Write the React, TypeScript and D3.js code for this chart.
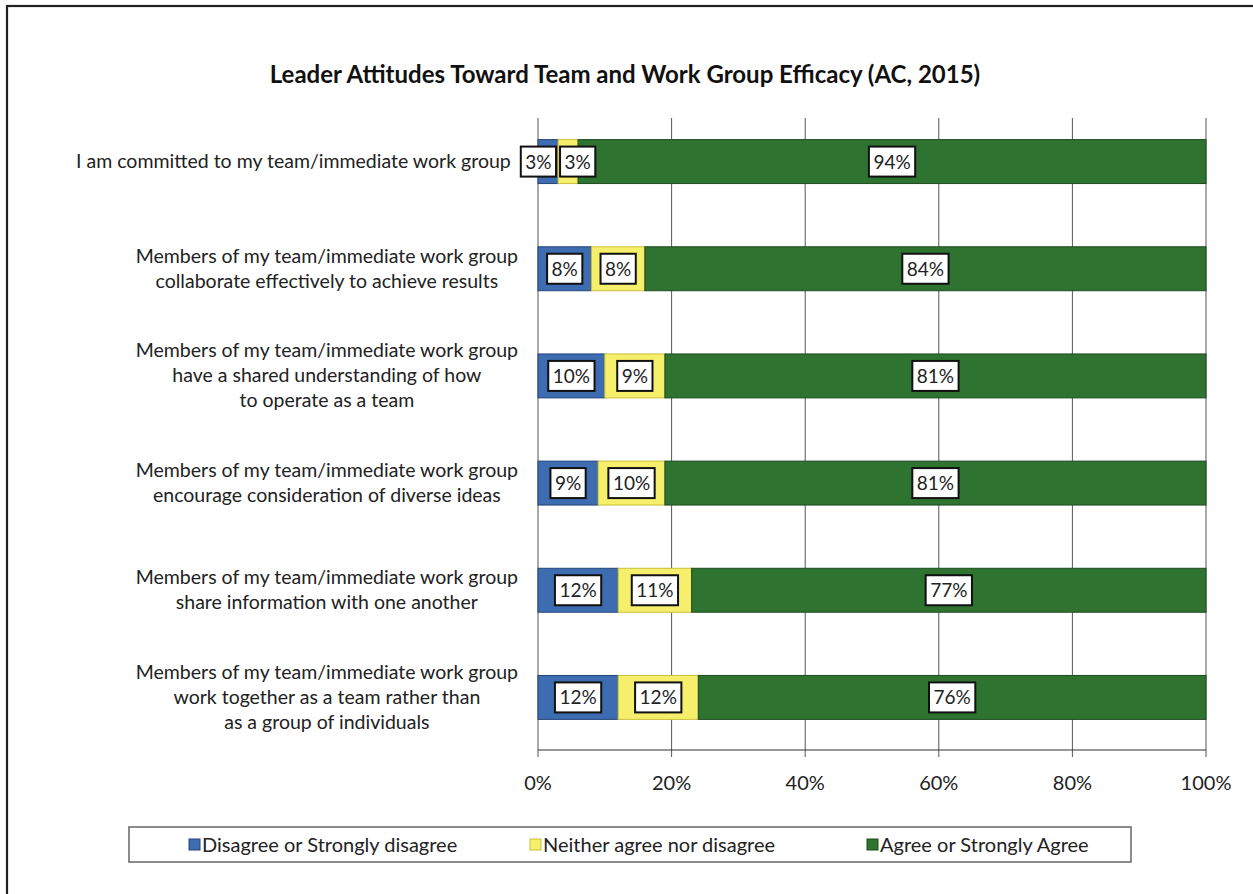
import React, { useEffect, useRef } from "react";
import * as d3 from "d3";

const titleText = "Leader Attitudes Toward Team and Work Group Efficacy (AC, 2015)";

const categories: string[][] = [
  ["I am committed to my team/immediate work group"],
  ["Members of my team/immediate work group", "collaborate effectively to achieve results"],
  ["Members of my team/immediate work group", "have a shared understanding of how", "to operate as a team"],
  ["Members of my team/immediate work group", "encourage consideration of diverse ideas"],
  ["Members of my team/immediate work group", "share information with one another"],
  ["Members of my team/immediate work group", "work together as a team rather than", "as a group of individuals"],
];

const disagree = [3, 8, 10, 9, 12, 12];
const neither = [3, 8, 9, 10, 11, 12];
const agree = [94, 84, 81, 81, 77, 76];

const seriesNames = ["Disagree or Strongly disagree", "Neither agree nor disagree", "Agree or Strongly Agree"];
const seriesColors = ["#3d6cb0", "#f6ef6c", "#2f7331"];
const seriesStroke = ["#23447a", "#c9bf3a", "#1d4a1f"];

const xTicks = [0, 20, 40, 60, 80, 100];

const FONT = "Lato, 'Open Sans', sans-serif";

export default function App() {
  const ref = useRef<SVGSVGElement | null>(null);

  useEffect(() => {
    const svg = d3.select(ref.current);
    svg.selectAll("*").remove();

    const left = 538, right = 1206, bandTop = 108, bandBottom = 751, gridTop = 118, axisY = 750;

    // outer frame
    svg.append("rect").attr("x", 7).attr("y", 6).attr("width", 1300).attr("height", 1000)
      .attr("fill", "white").attr("stroke", "#222").attr("stroke-width", 2.2);

    svg.append("text").attr("x", 625).attr("y", 83).attr("text-anchor", "middle")
      .attr("font-family", FONT).attr("font-weight", "bold").attr("font-size", 24)
      .attr("fill", "#111").text(titleText);

    const x = d3.scaleLinear().domain([0, 100]).range([left, right]);
    const y = d3.scaleBand<number>().domain(d3.range(categories.length)).range([bandTop, bandBottom]).paddingInner(0.59).paddingOuter(0.295);

    // gridlines
    svg.append("g").selectAll("line").data(xTicks).join("line")
      .attr("x1", d => x(d)).attr("x2", d => x(d)).attr("y1", gridTop).attr("y2", axisY + 7)
      .attr("stroke", "#555").attr("stroke-width", 1);
    svg.append("line").attr("x1", left).attr("x2", right).attr("y1", axisY).attr("y2", axisY)
      .attr("stroke", "#333").attr("stroke-width", 1.2);

    // tick labels
    svg.append("g").selectAll("text").data(xTicks).join("text")
      .attr("x", d => x(d)).attr("y", 790).attr("text-anchor", "middle")
      .attr("font-family", FONT).attr("font-size", 20).attr("fill", "#222")
      .text(d => d + "%");

    // bars
    const series = [disagree, neither, agree];
    const bh = y.bandwidth();
    categories.forEach((_, i) => {
      let cum = 0;
      series.forEach((s, k) => {
        const v = s[i];
        svg.append("rect").attr("x", x(cum)).attr("y", y(i)!).attr("width", x(cum + v) - x(cum)).attr("height", bh)
          .attr("fill", seriesColors[k]).attr("stroke", seriesStroke[k]).attr("stroke-width", 1);
        cum += v;
      });
    });

    // label boxes, with simple overlap avoidance
    const pad = 4.5, gap = 4;
    const rowMinLeft: number[] = [];
    categories.forEach((_, i) => {
      let cum = 0;
      const cy = y(i)! + bh / 2;
      const items = series.map((s) => {
        const v = s[i];
        const cx = x(cum + v / 2);
        cum += v;
        const g = svg.append("g");
        const t = g.append("text").attr("y", cy + 7).attr("text-anchor", "middle")
          .attr("font-family", FONT).attr("font-size", 19).attr("fill", "#222").text(v + "%");
        const w = (t.node() as SVGTextElement).getComputedTextLength() + pad * 2;
        return { g, t, cx, w };
      });
      for (let iter = 0; iter < 5; iter++) {
        for (let j = 0; j < items.length - 1; j++) {
          const a = items[j], b = items[j + 1];
          const need = a.w / 2 + b.w / 2 + gap;
          const dist = b.cx - a.cx;
          if (dist < need) {
            const shift = (need - dist) / 2;
            a.cx -= shift;
            b.cx += shift;
          }
        }
      }
      rowMinLeft.push(d3.min(items, it => it.cx - it.w / 2) || left);
      items.forEach(({ g, t, cx, w }) => {
        t.attr("x", cx);
        g.insert("rect", "text").attr("x", cx - w / 2).attr("y", cy - 15).attr("width", w).attr("height", 30)
          .attr("fill", "white").attr("stroke", "#111").attr("stroke-width", 2);
      });
    });

    // category labels
    const labelRight = 518;
    const lineH = 25;
    categories.forEach((lines, i) => {
      const cy = y(i)! + bh / 2;
      const g = svg.append("g");
      const texts = lines.map((ln, j) =>
        g.append("text").attr("y", cy + (j - (lines.length - 1) / 2) * lineH + 6.5)
          .attr("text-anchor", "middle").attr("font-family", FONT).attr("font-size", 19.5).attr("fill", "#222").text(ln)
      );
      const maxW = d3.max(texts, t => (t.node() as SVGTextElement).getComputedTextLength()) || 0;
      const r = Math.min(labelRight, rowMinLeft[i] - 10);
      texts.forEach(t => t.attr("x", r - maxW / 2));
    });

    // legend
    svg.append("rect").attr("x", 129).attr("y", 827).attr("width", 1002).attr("height", 35)
      .attr("fill", "white").attr("stroke", "#666").attr("stroke-width", 1.5);
    const legendX = [189, 530, 867];
    seriesNames.forEach((n, k) => {
      svg.append("rect").attr("x", legendX[k]).attr("y", 839).attr("width", 11).attr("height", 11)
        .attr("fill", seriesColors[k]).attr("stroke", seriesStroke[k]).attr("stroke-width", 1);
      svg.append("text").attr("x", legendX[k] + 13).attr("y", 852).attr("font-family", FONT).attr("font-size", 20)
        .attr("fill", "#222").text(n);
    });
  }, []);

  return (
    <svg ref={ref} width={1253} height={894} style={{ position: "absolute", left: 0, top: 0, background: "white" }} />
  );
}
